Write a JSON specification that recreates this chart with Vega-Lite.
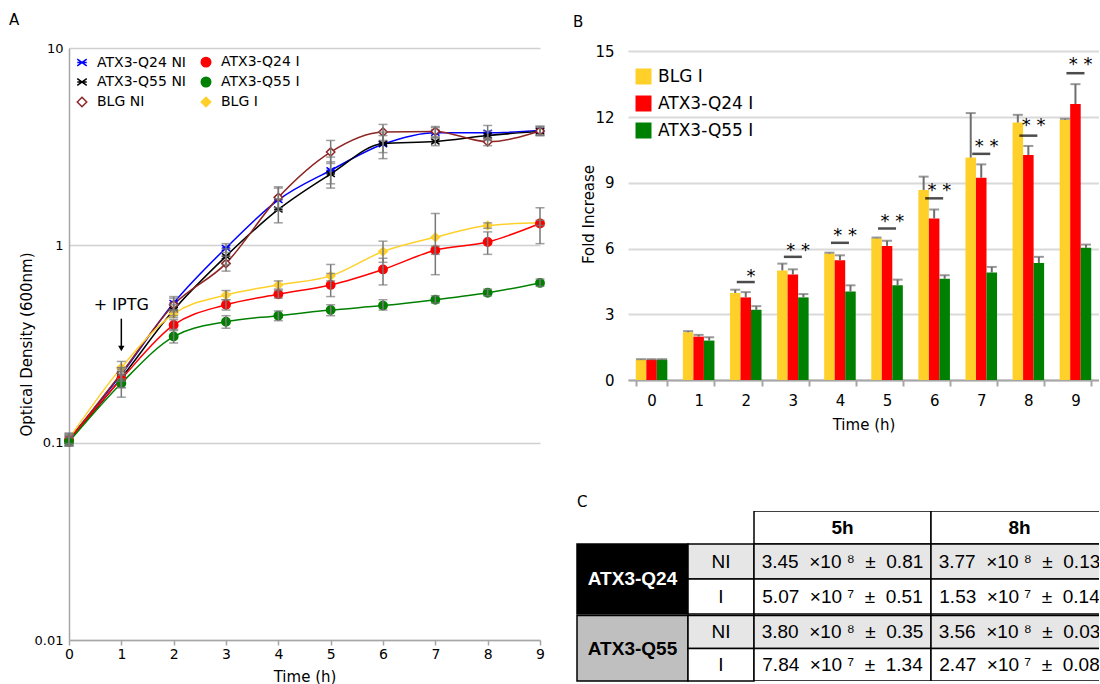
{
  "$schema": "https://vega.github.io/schema/vega-lite/v6.json",
  "background": "white",
  "padding": {"left": 9, "top": 13, "right": 0, "bottom": 0},
  "config": {
    "font": "DejaVu Sans",
    "view": {"stroke": null},
    "axis": {"labelColor": "#000000", "titleColor": "#000000", "titleFontWeight": "normal", "labelFont": "DejaVu Sans", "titleFont": "DejaVu Sans"},
    "legend": {"labelColor": "#000000", "labelFont": "DejaVu Sans"},
    "title": {"font": "DejaVu Sans", "fontWeight": "normal", "color": "#000000"}
  },
  "resolve": {"scale": {"color": "independent"}},
  "datasets": {
    "growth": [
      {"series": "ATX3-Q24 NI", "t": 0, "od": 0.104, "lo": 0.097, "hi": 0.112},
      {"series": "ATX3-Q24 NI", "t": 1, "od": 0.222, "lo": 0.205, "hi": 0.24},
      {"series": "ATX3-Q24 NI", "t": 2, "od": 0.51, "lo": 0.47, "hi": 0.55},
      {"series": "ATX3-Q24 NI", "t": 3, "od": 0.97, "lo": 0.92, "hi": 1.02},
      {"series": "ATX3-Q24 NI", "t": 4, "od": 1.7, "lo": 1.5, "hi": 1.95},
      {"series": "ATX3-Q24 NI", "t": 5, "od": 2.4, "lo": 2.05, "hi": 2.8},
      {"series": "ATX3-Q24 NI", "t": 6, "od": 3.25, "lo": 2.75, "hi": 3.75},
      {"series": "ATX3-Q24 NI", "t": 7, "od": 3.72, "lo": 3.5, "hi": 3.95},
      {"series": "ATX3-Q24 NI", "t": 8, "od": 3.72, "lo": 3.45, "hi": 4.05},
      {"series": "ATX3-Q24 NI", "t": 9, "od": 3.82, "lo": 3.62, "hi": 4.02},
      {"series": "ATX3-Q55 NI", "t": 0, "od": 0.102, "lo": 0.096, "hi": 0.108},
      {"series": "ATX3-Q55 NI", "t": 1, "od": 0.213, "lo": 0.19, "hi": 0.235},
      {"series": "ATX3-Q55 NI", "t": 2, "od": 0.47, "lo": 0.44, "hi": 0.5},
      {"series": "ATX3-Q55 NI", "t": 3, "od": 0.88, "lo": 0.8, "hi": 0.96},
      {"series": "ATX3-Q55 NI", "t": 4, "od": 1.52, "lo": 1.3, "hi": 1.72},
      {"series": "ATX3-Q55 NI", "t": 5, "od": 2.3, "lo": 1.95, "hi": 2.65},
      {"series": "ATX3-Q55 NI", "t": 6, "od": 3.28, "lo": 2.95, "hi": 3.6},
      {"series": "ATX3-Q55 NI", "t": 7, "od": 3.36, "lo": 3.2, "hi": 3.52},
      {"series": "ATX3-Q55 NI", "t": 8, "od": 3.6, "lo": 3.4, "hi": 3.8},
      {"series": "ATX3-Q55 NI", "t": 9, "od": 3.78, "lo": 3.6, "hi": 3.96},
      {"series": "BLG NI", "t": 0, "od": 0.103, "lo": 0.097, "hi": 0.11},
      {"series": "BLG NI", "t": 1, "od": 0.225, "lo": 0.21, "hi": 0.24},
      {"series": "BLG NI", "t": 2, "od": 0.5, "lo": 0.46, "hi": 0.54},
      {"series": "BLG NI", "t": 3, "od": 0.81, "lo": 0.74, "hi": 0.88},
      {"series": "BLG NI", "t": 4, "od": 1.75, "lo": 1.55, "hi": 1.98},
      {"series": "BLG NI", "t": 5, "od": 2.97, "lo": 2.6, "hi": 3.4},
      {"series": "BLG NI", "t": 6, "od": 3.75, "lo": 3.4, "hi": 4.1},
      {"series": "BLG NI", "t": 7, "od": 3.78, "lo": 3.55, "hi": 4.0},
      {"series": "BLG NI", "t": 8, "od": 3.35, "lo": 3.2, "hi": 3.5},
      {"series": "BLG NI", "t": 9, "od": 3.8, "lo": 3.6, "hi": 4.0},
      {"series": "BLG I", "t": 0, "od": 0.105, "lo": 0.099, "hi": 0.111},
      {"series": "BLG I", "t": 1, "od": 0.24, "lo": 0.225, "hi": 0.258},
      {"series": "BLG I", "t": 2, "od": 0.45, "lo": 0.43, "hi": 0.47},
      {"series": "BLG I", "t": 3, "od": 0.56, "lo": 0.53, "hi": 0.59},
      {"series": "BLG I", "t": 4, "od": 0.63, "lo": 0.6, "hi": 0.66},
      {"series": "BLG I", "t": 5, "od": 0.7, "lo": 0.66, "hi": 0.8},
      {"series": "BLG I", "t": 6, "od": 0.93, "lo": 0.82, "hi": 1.05},
      {"series": "BLG I", "t": 7, "od": 1.1, "lo": 0.71, "hi": 1.45},
      {"series": "BLG I", "t": 8, "od": 1.26, "lo": 1.22, "hi": 1.3},
      {"series": "BLG I", "t": 9, "od": 1.3, "lo": 1.26, "hi": 1.34},
      {"series": "ATX3-Q24 I", "t": 0, "od": 0.103, "lo": 0.097, "hi": 0.109},
      {"series": "ATX3-Q24 I", "t": 1, "od": 0.21, "lo": 0.19, "hi": 0.23},
      {"series": "ATX3-Q24 I", "t": 2, "od": 0.395, "lo": 0.37, "hi": 0.42},
      {"series": "ATX3-Q24 I", "t": 3, "od": 0.5, "lo": 0.47, "hi": 0.53},
      {"series": "ATX3-Q24 I", "t": 4, "od": 0.565, "lo": 0.54, "hi": 0.59},
      {"series": "ATX3-Q24 I", "t": 5, "od": 0.63, "lo": 0.55, "hi": 0.72},
      {"series": "ATX3-Q24 I", "t": 6, "od": 0.755, "lo": 0.63, "hi": 0.86},
      {"series": "ATX3-Q24 I", "t": 7, "od": 0.945, "lo": 0.9, "hi": 0.99},
      {"series": "ATX3-Q24 I", "t": 8, "od": 1.04, "lo": 0.9, "hi": 1.17},
      {"series": "ATX3-Q24 I", "t": 9, "od": 1.29, "lo": 1.02, "hi": 1.55},
      {"series": "ATX3-Q55 I", "t": 0, "od": 0.101, "lo": 0.096, "hi": 0.106},
      {"series": "ATX3-Q55 I", "t": 1, "od": 0.2, "lo": 0.17, "hi": 0.22},
      {"series": "ATX3-Q55 I", "t": 2, "od": 0.345, "lo": 0.32, "hi": 0.375},
      {"series": "ATX3-Q55 I", "t": 3, "od": 0.41, "lo": 0.38, "hi": 0.44},
      {"series": "ATX3-Q55 I", "t": 4, "od": 0.44, "lo": 0.415, "hi": 0.465},
      {"series": "ATX3-Q55 I", "t": 5, "od": 0.47, "lo": 0.44, "hi": 0.5},
      {"series": "ATX3-Q55 I", "t": 6, "od": 0.495, "lo": 0.47, "hi": 0.53},
      {"series": "ATX3-Q55 I", "t": 7, "od": 0.53, "lo": 0.51, "hi": 0.555},
      {"series": "ATX3-Q55 I", "t": 8, "od": 0.575, "lo": 0.555, "hi": 0.6},
      {"series": "ATX3-Q55 I", "t": 9, "od": 0.645, "lo": 0.62, "hi": 0.675}
    ],
    "iptg": [{"t": 1, "od": 0.497, "label": "+ IPTG", "top": 0.425, "tip": 0.3}],
    "fold": [
      {"series": "BLG I", "time": 0, "value": 0.93, "hi": 0.95},
      {"series": "BLG I", "time": 1, "value": 2.18, "hi": 2.23},
      {"series": "BLG I", "time": 2, "value": 3.97, "hi": 4.12},
      {"series": "BLG I", "time": 3, "value": 5.0, "hi": 5.31},
      {"series": "BLG I", "time": 4, "value": 5.77, "hi": 5.81},
      {"series": "BLG I", "time": 5, "value": 6.47, "hi": 6.5},
      {"series": "BLG I", "time": 6, "value": 8.67, "hi": 9.28},
      {"series": "BLG I", "time": 7, "value": 10.15, "hi": 12.18},
      {"series": "BLG I", "time": 8, "value": 11.75, "hi": 12.1},
      {"series": "BLG I", "time": 9, "value": 11.88, "hi": 11.92},
      {"series": "ATX3-Q24 I", "time": 0, "value": 0.93, "hi": 0.95},
      {"series": "ATX3-Q24 I", "time": 1, "value": 1.98, "hi": 2.06},
      {"series": "ATX3-Q24 I", "time": 2, "value": 3.77, "hi": 4.01},
      {"series": "ATX3-Q24 I", "time": 3, "value": 4.81, "hi": 5.05},
      {"series": "ATX3-Q24 I", "time": 4, "value": 5.46, "hi": 5.69},
      {"series": "ATX3-Q24 I", "time": 5, "value": 6.12, "hi": 6.35},
      {"series": "ATX3-Q24 I", "time": 6, "value": 7.37, "hi": 7.78},
      {"series": "ATX3-Q24 I", "time": 7, "value": 9.23, "hi": 9.84},
      {"series": "ATX3-Q24 I", "time": 8, "value": 10.27, "hi": 10.68},
      {"series": "ATX3-Q24 I", "time": 9, "value": 12.59, "hi": 13.5},
      {"series": "ATX3-Q55 I", "time": 0, "value": 0.93, "hi": 0.95},
      {"series": "ATX3-Q55 I", "time": 1, "value": 1.8, "hi": 1.95},
      {"series": "ATX3-Q55 I", "time": 2, "value": 3.2, "hi": 3.37},
      {"series": "ATX3-Q55 I", "time": 3, "value": 3.77, "hi": 3.92},
      {"series": "ATX3-Q55 I", "time": 4, "value": 4.04, "hi": 4.32},
      {"series": "ATX3-Q55 I", "time": 5, "value": 4.32, "hi": 4.58},
      {"series": "ATX3-Q55 I", "time": 6, "value": 4.62, "hi": 4.78},
      {"series": "ATX3-Q55 I", "time": 7, "value": 4.9, "hi": 5.16},
      {"series": "ATX3-Q55 I", "time": 8, "value": 5.34, "hi": 5.62},
      {"series": "ATX3-Q55 I", "time": 9, "value": 6.03, "hi": 6.18}
    ],
    "sig": [
      {"time": 2, "label": "*", "star": 4.93, "line": 4.47},
      {"time": 3, "label": "* *", "star": 6.1, "line": 5.62},
      {"time": 4, "label": "* *", "star": 6.8, "line": 6.26},
      {"time": 5, "label": "* *", "star": 7.42, "line": 6.91},
      {"time": 6, "label": "* *", "star": 8.85, "line": 8.29},
      {"time": 7, "label": "* *", "star": 10.85, "line": 10.32},
      {"time": 8, "label": "* *", "star": 11.8, "line": 11.15},
      {"time": 9, "label": "* *", "star": 14.6, "line": 14.0}
    ],
    "table": [
      {"c": 2, "c2": 3, "r": 0, "r2": 1, "cx": 2.5, "cy": 0.5, "text": "5h", "kind": "header"},
      {"c": 3, "c2": 4, "r": 0, "r2": 1, "cx": 3.5, "cy": 0.5, "text": "8h", "kind": "header"},
      {"c": 0, "c2": 1, "r": 1, "r2": 3, "cx": 0.5, "cy": 2, "text": "ATX3-Q24", "kind": "q24"},
      {"c": 0, "c2": 1, "r": 4, "r2": 6, "cx": 0.5, "cy": 5, "text": "ATX3-Q55", "kind": "q55"},
      {"c": 1, "c2": 2, "r": 1, "r2": 2, "cx": 1.5, "cy": 1.5, "text": "NI", "kind": "ni"},
      {"c": 1, "c2": 2, "r": 2, "r2": 3, "cx": 1.5, "cy": 2.5, "text": "I", "kind": "i"},
      {"c": 1, "c2": 2, "r": 4, "r2": 5, "cx": 1.5, "cy": 4.5, "text": "NI", "kind": "ni"},
      {"c": 1, "c2": 2, "r": 5, "r2": 6, "cx": 1.5, "cy": 5.5, "text": "I", "kind": "i"},
      {"c": 2, "c2": 3, "r": 1, "r2": 2, "cx": 2.5, "cy": 1.5, "text": "3.45\u00a0 ×10\u00a0⁸\u00a0 ±\u00a0 0.81", "kind": "ni"},
      {"c": 2, "c2": 3, "r": 2, "r2": 3, "cx": 2.5, "cy": 2.5, "text": "5.07\u00a0 ×10\u00a0⁷\u00a0 ±\u00a0 0.51", "kind": "i"},
      {"c": 2, "c2": 3, "r": 4, "r2": 5, "cx": 2.5, "cy": 4.5, "text": "3.80\u00a0 ×10\u00a0⁸\u00a0 ±\u00a0 0.35", "kind": "ni"},
      {"c": 2, "c2": 3, "r": 5, "r2": 6, "cx": 2.5, "cy": 5.5, "text": "7.84\u00a0 ×10\u00a0⁷\u00a0 ±\u00a0 1.34", "kind": "i"},
      {"c": 3, "c2": 4, "r": 1, "r2": 2, "cx": 3.5, "cy": 1.5, "text": "3.77\u00a0 ×10\u00a0⁸\u00a0 ±\u00a0 0.13", "kind": "ni"},
      {"c": 3, "c2": 4, "r": 2, "r2": 3, "cx": 3.5, "cy": 2.5, "text": "1.53\u00a0 ×10\u00a0⁷\u00a0 ±\u00a0 0.14", "kind": "i"},
      {"c": 3, "c2": 4, "r": 4, "r2": 5, "cx": 3.5, "cy": 4.5, "text": "3.56\u00a0 ×10\u00a0⁸\u00a0 ±\u00a0 0.03", "kind": "ni"},
      {"c": 3, "c2": 4, "r": 5, "r2": 6, "cx": 3.5, "cy": 5.5, "text": "2.47\u00a0 ×10\u00a0⁷\u00a0 ±\u00a0 0.08", "kind": "i"}
    ]
  },
  "bounds": "flush",
  "spacing": 88,
  "hconcat": [
    {
      "width": 471,
      "height": 592,
      "title": {"text": "A", "anchor": "start", "frame": "group", "dx": -60, "offset": 2, "baseline": "alphabetic", "fontSize": 15},
      "encoding": {
        "x": {"field": "t", "type": "quantitative", "scale": {"domain": [0, 9], "nice": false},
          "axis": {"title": "Time (h)", "values": [0,1,2,3,4,5,6,7,8,9], "grid": false, "domainColor": "#a6a6a6", "domainWidth": 1.5, "tickColor": "#a6a6a6", "tickWidth": 1.5, "tickSize": 5, "labelFontSize": 14, "labelPadding": 2, "labelFlush": false, "titleFontSize": 15, "titlePadding": 8}}
      },
      "layer": [
        {
          "data": {"name": "growth"},
          "mark": {"type": "line", "interpolate": "monotone", "strokeWidth": 1.5},
          "encoding": {
            "y": {"field": "od", "type": "quantitative", "title": "Optical Density (600nm)",
              "scale": {"type": "log", "domain": [0.01, 10], "nice": false},
              "axis": {"values": [0.01, 0.1, 1, 10], "format": "~g", "grid": true, "gridColor": "#d0d0d0", "gridWidth": 1.5, "domainColor": "#a6a6a6", "domainWidth": 1.5, "ticks": false, "labelPadding": 6, "labelFontSize": 13, "titleFontSize": 15, "titlePadding": 0}},
            "color": {"field": "series", "type": "nominal",
              "scale": {"domain": ["ATX3-Q24 NI", "ATX3-Q55 NI", "BLG NI", "ATX3-Q24 I", "ATX3-Q55 I", "BLG I"], "range": ["#0000ff", "#000000", "#8f2424", "#ff0000", "#008000", "#ffd02a"]},
              "legend": null}
          }
        },
        {
          "data": {"name": "growth"},
          "mark": {"type": "point", "filled": true, "size": 70, "strokeWidth": 1.5, "opacity": 1},
          "encoding": {
            "y": {"field": "od", "type": "quantitative", "title": "Optical Density (600nm)"},
            "shape": {"field": "series", "type": "nominal",
              "scale": {"domain": ["ATX3-Q24 NI", "ATX3-Q55 NI", "BLG NI", "ATX3-Q24 I", "ATX3-Q55 I", "BLG I"], "range": ["M-1,-0.7L1,0.7M-1,0.7L1,-0.7M-1,0L1,0", "M-1,-0.7L1,0.7M-1,0.7L1,-0.7M-1,0L1,0", "diamond", "circle", "circle", "diamond"]},
              "legend": {"title": null, "orient": "none", "legendX": 6, "legendY": 7, "columns": 2, "columnPadding": 12, "rowPadding": 4, "labelFontSize": 14, "labelOffset": 8, "symbolSize": 90, "symbolStrokeWidth": 1.5, "padding": 0}},
            "fill": {"field": "series", "type": "nominal",
              "scale": {"domain": ["ATX3-Q24 NI", "ATX3-Q55 NI", "BLG NI", "ATX3-Q24 I", "ATX3-Q55 I", "BLG I"], "range": ["#0000ff", "#000000", "#ffffff", "#ff0000", "#008000", "#ffd02a"]}},
            "stroke": {"field": "series", "type": "nominal",
              "scale": {"domain": ["ATX3-Q24 NI", "ATX3-Q55 NI", "BLG NI", "ATX3-Q24 I", "ATX3-Q55 I", "BLG I"], "range": ["#0000ff", "#000000", "#8f2424", "#ff0000", "#008000", "#ffd02a"]}}
          }
        },
        {
          "data": {"name": "growth"},
          "mark": {"type": "rule", "color": "#777777", "strokeWidth": 1.5},
          "encoding": {
            "y": {"field": "lo", "type": "quantitative", "title": "Optical Density (600nm)"},
            "y2": {"field": "hi"}
          }
        },
        {
          "data": {"name": "growth"},
          "mark": {"type": "tick", "orient": "horizontal", "color": "#777777", "size": 9, "thickness": 1.5},
          "encoding": {"y": {"field": "lo", "type": "quantitative", "title": "Optical Density (600nm)"}}
        },
        {
          "data": {"name": "growth"},
          "mark": {"type": "tick", "orient": "horizontal", "color": "#777777", "size": 9, "thickness": 1.5},
          "encoding": {"y": {"field": "hi", "type": "quantitative", "title": "Optical Density (600nm)"}}
        },
        {
          "data": {"name": "iptg"},
          "mark": {"type": "text", "fontSize": 16, "color": "#000000"},
          "encoding": {
            "y": {"field": "od", "type": "quantitative", "title": "Optical Density (600nm)"},
            "text": {"field": "label"}
          }
        },
        {
          "data": {"name": "iptg"},
          "mark": {"type": "rule", "color": "#000000", "strokeWidth": 1.5},
          "encoding": {
            "y": {"field": "top", "type": "quantitative", "title": "Optical Density (600nm)"},
            "y2": {"field": "tip"}
          }
        },
        {
          "data": {"name": "iptg"},
          "mark": {"type": "point", "shape": "triangle-down", "filled": true, "color": "#000000", "size": 40, "opacity": 1},
          "encoding": {
            "y": {"field": "tip", "type": "quantitative", "title": "Optical Density (600nm)"}
          }
        }
      ]
    },
    {
      "bounds": "flush",
      "spacing": 131,
      "resolve": {"scale": {"color": "independent"}},
      "vconcat": [
        {
          "width": 471,
          "height": 332,
          "title": {"text": "B", "anchor": "start", "frame": "group", "dx": -55, "offset": 2, "baseline": "alphabetic", "fontSize": 15},
          "data": {"name": "fold"},
          "encoding": {
            "x": {"field": "time", "type": "ordinal", "scale": {"paddingInner": 0.33, "paddingOuter": 0.165},
              "axis": {"title": "Time (h)", "labelAngle": 0, "domainColor": "#a6a6a6", "domainWidth": 2, "tickColor": "#a6a6a6", "tickWidth": 2, "tickSize": 6, "tickBand": "extent", "labelPadding": 7, "labelFontSize": 15, "titleFontSize": 15, "titlePadding": 9}}
          },
          "layer": [
            {
              "mark": {"type": "bar"},
              "encoding": {
                "xOffset": {"field": "series", "type": "nominal", "scale": {"domain": ["BLG I", "ATX3-Q24 I", "ATX3-Q55 I"], "paddingInner": 0, "paddingOuter": 0}},
                "y": {"field": "value", "type": "quantitative", "title": "Fold Increase",
                  "scale": {"domain": [0, 15.15], "nice": false},
                  "axis": {"values": [0, 3, 6, 9, 12, 15], "grid": true, "gridColor": "#d9d9d9", "gridWidth": 2, "domain": false, "ticks": false, "labelPadding": 14, "labelFontSize": 15, "titleFontSize": 15, "titlePadding": -2}},
                "color": {"field": "series", "type": "nominal",
                  "scale": {"domain": ["BLG I", "ATX3-Q24 I", "ATX3-Q55 I"], "range": ["#ffd02a", "#ff0000", "#008000"]},
                  "legend": {"title": null, "orient": "none", "legendX": 7, "legendY": 20, "symbolType": "square", "symbolSize": 256, "symbolStrokeWidth": 0, "labelFontSize": 17, "rowPadding": 9, "labelOffset": 6, "padding": 0}}
              }
            },
            {
              "mark": {"type": "rule", "color": "#6e6e6e", "strokeWidth": 2},
              "encoding": {
                "xOffset": {"field": "series", "type": "nominal"},
                "y": {"field": "value", "type": "quantitative", "title": "Fold Increase"},
                "y2": {"field": "hi"}
              }
            },
            {
              "mark": {"type": "tick", "orient": "horizontal", "color": "#6e6e6e", "size": 10, "thickness": 2},
              "encoding": {
                "xOffset": {"field": "series", "type": "nominal"},
                "y": {"field": "hi", "type": "quantitative", "title": "Fold Increase"}
              }
            },
            {
              "data": {"name": "sig"},
              "mark": {"type": "tick", "orient": "horizontal", "color": "#000000", "size": 18, "thickness": 2.5},
              "encoding": {
                "x": {"field": "time", "type": "ordinal", "bandPosition": 0.667},
                "y": {"field": "line", "type": "quantitative", "title": "Fold Increase"}
              }
            },
            {
              "data": {"name": "sig"},
              "mark": {"type": "text", "fontSize": 18, "baseline": "alphabetic", "dy": 10, "color": "#000000"},
              "encoding": {
                "x": {"field": "time", "type": "ordinal", "bandPosition": 0.667},
                "y": {"field": "star", "type": "quantitative", "title": "Fold Increase"},
                "text": {"field": "label"}
              }
            }
          ]
        },
        {
          "width": 471,
          "height": 170,
          "title": {"text": "C", "anchor": "start", "frame": "group", "dx": -51, "offset": -11, "baseline": "alphabetic", "fontSize": 15},
          "data": {"name": "table"},
          "layer": [
            {
              "transform": [{"filter": "datum.c < 2"}],
              "mark": {"type": "rect", "stroke": "#000000", "strokeWidth": 1.5},
              "encoding": {
                "x": {"field": "c", "type": "quantitative", "scale": {"domain": [0, 1, 2, 3, 4], "range": [-51, 60, 126, 303, 480], "nice": false, "zero": false}, "axis": null},
                "x2": {"field": "c2"},
                "y": {"field": "r", "type": "quantitative", "scale": {"domain": [0, 1, 2, 3, 4, 5, 6], "range": [0, 33, 68, 103, 104.5, 137.5, 170], "nice": false, "zero": false}, "axis": null},
                "y2": {"field": "r2"},
                "color": {"field": "kind", "type": "nominal", "scale": {"domain": ["header", "q24", "q55", "ni", "i"], "range": ["#ffffff", "#000000", "#bfbfbf", "#e6e6e6", "#ffffff"]}, "legend": null}
              }
            },
            {
              "transform": [{"filter": "datum.c >= 2"}],
              "mark": {"type": "rect", "stroke": "#000000", "strokeWidth": 1.5, "clip": true},
              "encoding": {
                "x": {"field": "c", "type": "quantitative", "axis": null},
                "x2": {"field": "c2"},
                "y": {"field": "r", "type": "quantitative", "axis": null},
                "y2": {"field": "r2"},
                "color": {"field": "kind", "type": "nominal", "legend": null}
              }
            },
            {
              "transform": [{"filter": "datum.kind === 'header' || datum.kind === 'q24' || datum.kind === 'q55'"}],
              "mark": {"type": "text", "font": "Liberation Sans", "fontWeight": "bold", "fontSize": 19},
              "encoding": {
                "x": {"field": "cx", "type": "quantitative", "axis": null},
                "y": {"field": "cy", "type": "quantitative", "axis": null},
                "text": {"field": "text"},
                "fill": {"condition": {"test": "datum.kind === 'q24'", "value": "#ffffff"}, "value": "#000000"}
              }
            },
            {
              "transform": [{"filter": "datum.c === 1"}],
              "mark": {"type": "text", "font": "Liberation Sans", "fontSize": 19, "fill": "#000000"},
              "encoding": {
                "x": {"field": "cx", "type": "quantitative", "axis": null},
                "y": {"field": "cy", "type": "quantitative", "axis": null},
                "text": {"field": "text"}
              }
            },
            {
              "transform": [{"filter": "datum.c >= 2 && datum.kind !== 'header'"}],
              "mark": {"type": "text", "font": "Liberation Sans", "fontSize": 19, "fill": "#000000", "clip": true},
              "encoding": {
                "x": {"field": "cx", "type": "quantitative", "axis": null},
                "y": {"field": "cy", "type": "quantitative", "axis": null},
                "text": {"field": "text"}
              }
            }
          ]
        }
      ]
    }
  ]
}
